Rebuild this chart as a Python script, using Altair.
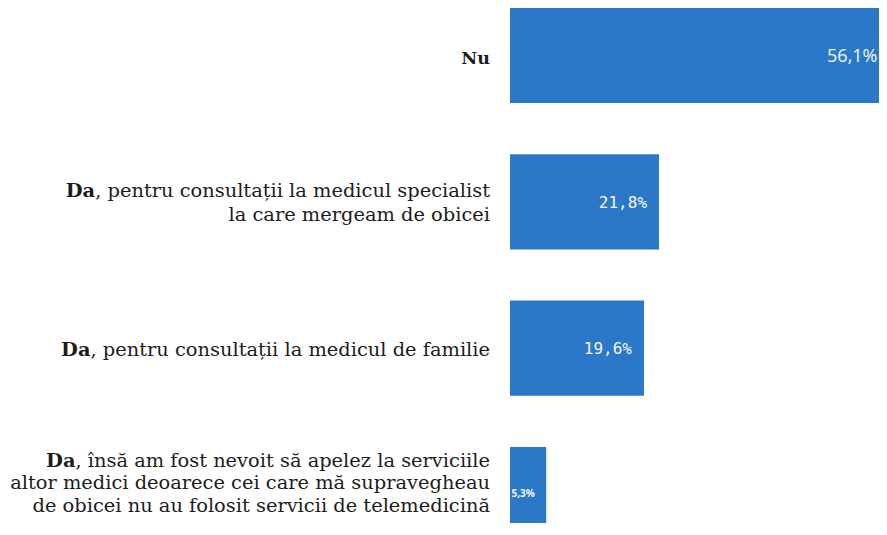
import glob
import altair as alt
import pandas as pd

# ---------------- data ----------------
CATEGORIES = ["Nu", "Da-specialist", "Da-familie", "Da-alti-medici"]
LABEL_BOLD = ["Nu", "Da", "Da", "Da"]
LABEL_REST = [
    "",
    ", pentru consultații la medicul specialist\nla care mergeam de obicei",
    ", pentru consultații la medicul de familie",
    ", însă am fost nevoit să apelez la serviciile\naltor medici deoarece cei care mă supravegheau\nde obicei nu au folosit servicii de telemedicină",
]
VALUES = [56.1, 21.8, 19.6, 5.3]
VALUE_LABELS = ["56,1%", "21,8%", "19,6%", "5,3%"]
VALUE_STYLE = ["large", "medium", "medium", "small"]

# ---------------- layout / style ----------------
WIDEST_LINE_PX = 480          # width of the longest label line in the reference
ROW_LH = [23.5, 24, 23.5, 22.5]
ROW_SHIFT = [3, 1.5, 1.5, -11]
ROW_BOLD_SIZE = [17.5, None, None, None]
LEFT_W = 482
GAP = 20
BAR_W = 369
H = 515
Y_RANGE = 534
XMAX = 53.98
BAR_COLOR = "#2C78C8"
TEXT_COLOR = "#1c1c1c"
VAL_COLOR = "#F4F6FA"

FONT = "DejaVu Serif"
hits = sorted(glob.glob("/usr/share/fonts/**/DejaVuSerif.ttf", recursive=True))
font_file = hits[0] if hits else None

APPROX = {" ": .318, ",": .318, "a": .596, "b": .64, "c": .561, "d": .64, "e": .592,
          "f": .37, "g": .64, "h": .644, "i": .32, "î": .32, "ă": .596, "ș": .513, "ț": .402,
          "l": .32, "m": .948, "n": .644, "o": .602, "p": .64, "r": .478, "s": .513,
          "t": .402, "u": .644, "v": .565, "z": .525}


def measurer(size):
    try:
        from PIL import ImageFont
        f = ImageFont.truetype(font_file, size)
        return lambda s: float(f.getlength(s))
    except Exception:
        return lambda s: sum(APPROX.get(ch, 0.6) for ch in s) * size


all_lines = [ln for r in LABEL_REST for ln in r.split("\n") if ln]
m20 = measurer(20)
longest = max(all_lines, key=m20)
FS = round(20 * WIDEST_LINE_PX / m20(longest), 2)
measure = measurer(FS)

reg_rows, bold_rows = [], []
for i, cat in enumerate(CATEGORIES):
    lines = LABEL_REST[i].split("\n") if LABEL_REST[i] else [""]
    n = len(lines)
    for j, line in enumerate(lines):
        dy = round((j - (n - 1) / 2) * ROW_LH[i] + ROW_SHIFT[i], 2)
        if line:
            reg_rows.append({"cat": cat, "text": line, "x": LEFT_W, "g": f"{dy}", "dy": dy, "fs": FS})
        if j == 0:
            bfs = ROW_BOLD_SIZE[i] or FS
            bold_rows.append({"cat": cat, "text": LABEL_BOLD[i],
                              "x": LEFT_W - (measure(line) if line else 0),
                              "g": f"{dy}|{bfs}", "dy": dy, "fs": bfs})

df_reg = pd.DataFrame(reg_rows)
df_bold = pd.DataFrame(bold_rows)
df_bars = pd.DataFrame({"cat": CATEGORIES, "value": VALUES,
                        "label": VALUE_LABELS, "style": VALUE_STYLE})

yscale = alt.Scale(type="band", domain=CATEGORIES, range=[0, Y_RANGE],
                   paddingInner=0.35, paddingOuter=0)
Y = alt.Y("cat:N", scale=yscale, axis=None, sort=CATEGORIES)

left_layers = []
for df, bold in [(df_reg, False), (df_bold, True)]:
    for g, dy, fs in sorted(set(zip(df["g"], df["dy"], df["fs"]))):
        kw = dict(align="right", baseline="middle", dy=float(dy), font=FONT,
                  fontSize=float(fs), color=TEXT_COLOR)
        if bold:
            kw["fontWeight"] = "bold"
        left_layers.append(
            alt.Chart(df).transform_filter(alt.datum.g == g).mark_text(**kw).encode(
                x=alt.X("x:Q", scale=None, axis=None),
                y=Y,
                text="text:N",
            )
        )
left = alt.layer(*left_layers).properties(width=LEFT_W, height=H)

X = alt.X("value:Q", scale=alt.Scale(domain=[0, XMAX], nice=False), axis=None)
base = alt.Chart(df_bars).encode(y=Y, x=X)
bars = base.mark_bar(color=BAR_COLOR, clip=True)
lab_large = base.transform_filter(alt.datum.style == "large").mark_text(
    align="right", baseline="middle", dx=-16, dy=1, font="Open Sans", fontSize=18,
    color=VAL_COLOR, clip=True).encode(text="label:N")
lab_medium = base.transform_filter(alt.datum.style == "medium").mark_text(
    align="right", baseline="middle", dx=-12, dy=1, font="DejaVu Sans Mono", fontSize=16,
    color=VAL_COLOR, clip=True).encode(text="label:N")
lab_small = base.transform_filter(alt.datum.style == "small").mark_text(
    align="left", baseline="middle", dx=1.5, dy=0, font="Open Sans", fontSize=10,
    fontWeight="bold", color=VAL_COLOR, clip=True).encode(
        text="label:N", x=alt.value(0))
right = alt.layer(bars, lab_large, lab_medium, lab_small).properties(width=BAR_W, height=H)

chart = alt.hconcat(left, right, spacing=GAP).properties(
    padding=0, background="white"
).configure_view(stroke=None)

chart.save("out.html", embed_options={"renderer": "svg", "actions": False})
